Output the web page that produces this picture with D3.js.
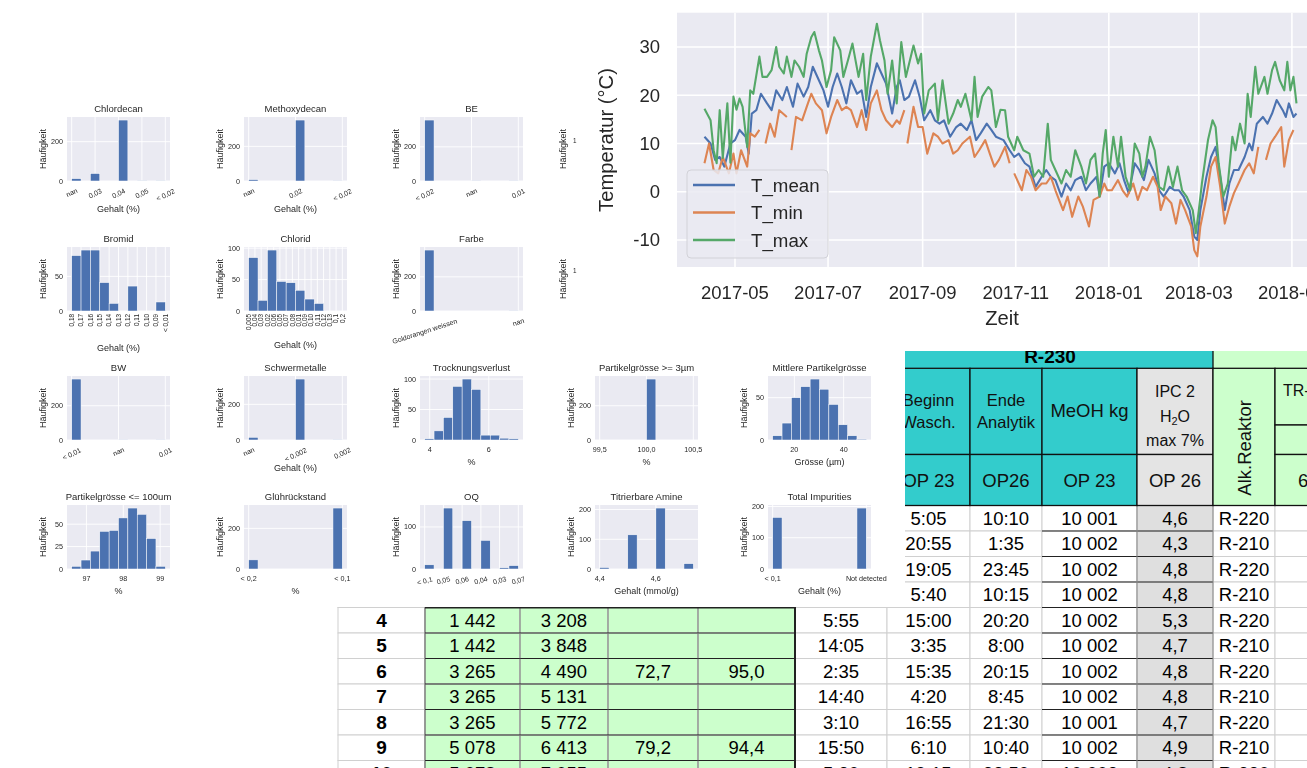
<!DOCTYPE html>
<html><head><meta charset="utf-8">
<script src="https://cdn.jsdelivr.net/npm/d3@7/dist/d3.min.js"></script>
<style>
html,body{margin:0;padding:0;background:#fff;overflow:hidden}
svg{display:block;font-family:"Liberation Sans",Arial,sans-serif}
</style></head><body>
<svg id="chart" width="1307" height="768"></svg>
<script>
// ---------------- Daily temperatures: [days since 2017-05-01, °C] ----------------
const tMean = [[-20,11.4],[-16,10],[-13,6.6],[-10,7.2],[-7,5.2],[-3,10],[0,10.7],[3,12.8],[7,11.4],[9,7.9],[11,16.2],[14,16.9],[17,20.3],[21,18.3],[24,16.9],[27,21],[31,19],[34,21.7],[38,17.6],[41,22.4],[45,19.7],[48,21.7],[51,25.9],[55,23.1],[58,21],[61,17.6],[64,21.7],[67,24.5],[70,21.7],[73,18.3],[76,23.1],[80,20.3],[83,21],[86,15.5],[89,21.7],[93,26.6],[96,24.5],[99,22.4],[103,16.2],[106,21.7],[108,23.1],[111,19],[114,19.7],[118,23.1],[121,19.7],[124,14.8],[128,16.9],[131,14.8],[134,14.1],[137,14.8],[141,11.4],[145,13.4],[148,14.1],[152,12.8],[155,14.8],[158,10.7],[161,12.1],[165,14.1],[168,12.8],[171,11.4],[176,10.7],[180,8.6],[183,7.2],[186,7.9],[190,5.9],[193,5.2],[197,1],[201,3.1],[204,4.5],[207,3.1],[210,2.4],[214,-1],[217,1.7],[220,0.3],[223,2.4],[227,3.1],[230,0.3],[233,1.7],[237,3.1],[239,-1],[242,5.2],[245,5.9],[249,3.8],[252,5.9],[255,2.4],[258,-0.3],[262,5.9],[265,4.5],[268,2.4],[271,6.6],[275,3.8],[278,0.3],[281,-1],[285,1],[288,0.3],[291,0.3],[294,-1],[298,-3.8],[301,-9.3],[303,-10],[305,-3.8],[309,3.1],[312,7.2],[315,9.3],[318,3.1],[321,-3.8],[324,1.7],[327,4.5],[330,4.5],[334,7.2],[337,10],[339,8.6],[342,14.1],[346,15.5],[349,14.1],[352,16.2],[355,19],[359,16.9],[361,15.5],[363,18.3],[366,15.5],[368,16.2]];
const tMin = [[-20,5.9],[-17,10],[-14,4.5],[-11,3.8],[-8,7.2],[-4,3.8],[-1,7.9],[1,3.8],[4,8.6],[8,5.2],[10,12.1],[13,11.4],[16,12.8],[18,null],[20,10],[23,14.1],[26,11.4],[29,16.9],[34,15.5],[35,null],[37,8.6],[40,15.5],[44,14.8],[47,17.6],[50,20.3],[53,18.3],[57,16.9],[60,12.1],[63,15.5],[67,19],[70,16.9],[73,17.6],[76,16.9],[80,13.4],[83,16.9],[86,12.8],[89,18.3],[93,21],[96,16.9],[99,14.8],[103,13.4],[106,14.8],[108,14.1],[111,16.9],[112,null],[113,10],[117,17.6],[120,13.4],[123,13.4],[126,7.9],[130,12.1],[133,11.4],[136,10],[140,10.7],[143,7.9],[146,8.6],[149,10],[154,11.4],[157,7.2],[160,8.6],[164,10.7],[167,7.9],[170,5.2],[173,6.6],[177,9.3],[180,5.9],[181,null],[183,3.8],[188,0.3],[191,4.5],[194,3.1],[197,0.3],[201,1.7],[204,1.7],[207,3.1],[210,0.3],[215,-3.8],[218,-1],[221,-5.2],[225,-1],[228,-3.1],[232,-7.2],[235,-1.7],[239,-1],[242,1.7],[244,0.3],[247,0.3],[251,2.4],[254,0.3],[257,-1],[261,1.7],[264,-1.7],[267,1],[270,0.3],[274,3.1],[277,1],[279,-3.8],[282,-1],[286,-2.4],[289,-6.6],[292,-1.7],[295,-3.8],[299,-7.2],[301,-12.1],[303,-13.4],[305,-7.2],[309,-1],[312,5.2],[315,7.2],[318,1],[321,-6.6],[324,-3.1],[327,-0.3],[330,1.7],[334,4.5],[337,5.9],[340,3.8],[343,9.3],[345,null],[348,6.6],[351,10],[354,11.4],[358,13.4],[360,5.2],[363,10.7],[366,12.8]];
const tMax = [[-20,17.2],[-16,14.8],[-14,8.6],[-12,5.9],[-10,16.9],[-8,7],[-5,18.3],[-3,6],[-1,19.7],[1,17],[3,19.3],[5,17.6],[8,9.3],[10,21],[12,20.3],[16,28],[18,23.8],[21,23.8],[24,25.2],[27,30],[29,25.9],[32,24.5],[34,28],[37,23.8],[39,27.2],[42,25.9],[45,23.8],[47,28.6],[50,32],[52,33.1],[55,29.3],[57,27.2],[60,21.7],[63,25.2],[65,32],[69,29.3],[71,23.8],[74,27.2],[77,30.7],[81,23.8],[84,28.6],[86,19],[89,28],[93,34.8],[95,31.4],[98,27.2],[100,20.3],[103,27.2],[106,18.3],[109,31],[112,23.8],[117,30.3],[120,26.6],[122,28.6],[124,16.2],[127,21],[131,22.4],[133,14.8],[136,23.1],[140,14.1],[143,16.2],[146,19],[148,17.6],[151,20.3],[155,14.8],[157,23.8],[159,15.5],[162,19.7],[166,21.7],[168,21],[171,13.4],[174,17],[177,16.9],[179,11.4],[183,8.6],[185,11.4],[189,8.6],[193,7.9],[196,3.1],[199,4.5],[202,3.1],[205,14.1],[207,6.6],[210,4.5],[214,1.7],[217,4.5],[220,3.1],[223,8.6],[227,5.2],[230,1.7],[233,6.6],[236,7.9],[239,-1],[241,7.9],[243,12.8],[245,3.1],[248,11.4],[251,5.2],[253,11.4],[256,3.1],[259,0.3],[262,10],[265,7.9],[267,3.1],[269,5.2],[272,11.4],[275,8.6],[278,1],[281,0.3],[284,5.2],[287,1],[290,5.2],[293,0.3],[296,-1],[300,-3.8],[302,-8.6],[304,-3.8],[306,1.7],[310,10.7],[313,14.8],[315,13.4],[317,5.9],[320,-1],[323,1.7],[326,11.4],[328,8.6],[331,14.1],[334,10],[336,20.3],[338,15.5],[341,25.9],[343,20.3],[347,23.8],[349,20.3],[352,25.2],[354,26.9],[357,23.1],[360,21],[362,26.9],[364,21],[366,23.8],[368,18.3]];
const seriesNames = ["T_mean", "T_min", "T_max"];
const seriesColors = ["#4C72B0", "#DD8452", "#55A868"];
const tempTicks = [-10, 0, 10, 20, 30];

// ---------------- Quality-parameter histograms (10 bins each) ----------------
const histTitles = ["Chlordecan", "Methoxydecan", "BE", "Bromid", "Chlorid", "Farbe",
  "BW", "Schwermetalle", "Trocknungsverlust", "Partikelgrösse >= 3µm", "Mittlere Partikelgrösse",
  "Partikelgrösse <= 100um", "Glührückstand", "OQ", "Titrierbare Amine", "Total Impurities"];
const histXLabels = ["Gehalt (%)", "Gehalt (%)", "", "Gehalt (%)", "Gehalt (%)", "",
  "", "Gehalt (%)", "%", "%", "Grösse (µm)", "%", "%", "", "Gehalt (mmol/g)", "Gehalt (%)"];
const histRanges = [[0, 4], [0, 2], [0, 2], [0, 10], [0, 15], [0, 1],
  [0, 2], [0, 2], [3.83, 7.0], [99.5, 100.5], [11.2, 49.2], [96.6, 99.14], [0, 1], [0, 5], [4.4, 4.7333], [0, 1]];
const histCounts = [
  [12, 0, 38, 0, 0, 310, 0, 1, 0, 1],
  [8, 0, 0, 0, 0, 352, 0, 0, 0, 1],
  [357, 0, 0, 0, 0, 1, 0, 0, 0, 1],
  [80, 88, 88, 41, 11, 0, 36, 0, 0, 13],
  [85, 17, 97, 47, 45, 33, 19, 12, 0, 0],
  [357, 0, 0, 0, 0, 0, 0, 0, 0, 1],
  [356, 0, 0, 0, 0, 1, 0, 0, 0, 1],
  [15, 0, 0, 0, 0, 342, 0, 0, 0, 1],
  [2, 15, 37, 88, 100, 83, 8, 8, 3, 2],
  [0, 0, 0, 0, 0, 356, 0, 0, 0, 0],
  [5, 20, 50, 63, 72, 60, 42, 18, 5, 1],
  [3, 10, 20, 42, 43, 57, 68, 61, 34, 3],
  [45, 0, 0, 0, 0, 0, 0, 0, 0, 300],
  [10, 0, 145, 0, 115, 0, 68, 0, 3, 8],
  [5, 0, 0, 115, 0, 0, 205, 0, 0, 18],
  [165, 0, 0, 0, 0, 0, 0, 0, 0, 195]];
const histTickValues = [
  [0, 1, 2, 3, 4], [0, 1, 2], [0, 1, 2], d3.range(11), d3.range(16), [0, 1],
  [0, 1, 2], [0, 1, 2], [4, 6], [99.5, 100, 100.5], [20, 40], [97, 98, 99],
  [0, 1], [0, 1, 2, 3, 4, 5], [4.4, 4.6], [0, 1]];
const histTickLabels = [
  ["nan", "0,03", "0,04", "0,05", "< 0,02"],
  ["nan", "0,02", "< 0,02"],
  ["< 0,02", "nan", "0,01"],
  ["0,18", "0,17", "0,16", "0,15", "0,14", "0,13", "0,12", "0,11", "0,10", "0,09", "< 0,01"],
  ["0,005", "0,04", "0,03", "0,02", "0,06", "0,05", "0,07", "0,08", "0,01", "0,09", "0,10", "0,11", "0,12", "0,13", "0,1", "0,2"],
  ["Goldorangen weissen", "nan"],
  ["< 0,01", "nan", "0,01"],
  ["nan", "< 0,002", "0,002"],
  ["4", "6"], ["99,5", "100,0", "100,5"], ["20", "40"], ["97", "98", "99"],
  ["< 0,2", "< 0,1"],
  ["< 0,1", "0,05", "0,06", "0,04", "0,03", "0,07"],
  ["4,4", "4,6"], ["< 0,1", "Not detected"]];
const histYTicks = [[0, 200], [0, 200], [0, 200], [0, 50], [0, 50, 100], [0, 200],
  [0, 200], [0, 200], [0, 50, 100], [0, 200], [0, 50], [0, 25, 50], [0, 200], [0, 100], [0, 100, 200], [0, 100, 200]];
const histTickRotation = [25, 25, 25, 90, 90, 18, 25, 25, 0, 0, 0, 0, 0, 15, 0, 0];
// grid slot of each histogram (row, column)
const histSlots = [[0, 0], [0, 1], [0, 2], [1, 0], [1, 1], [1, 2],
  [2, 0], [2, 1], [2, 2], [2, 3], [2, 4], [3, 0], [3, 1], [3, 2], [3, 3], [3, 4]];

// ---------------- Batch protocol table ----------------
const batchNo     = ["", "", "", "", "4", "5", "6", "7", "8", "9", "10"];
const amountA     = ["", "", "", "", "1 442", "1 442", "3 265", "3 265", "3 265", "5 078", "5 078"];
const amountB     = ["", "", "", "", "3 208", "3 848", "4 490", "5 131", "5 772", "6 413", "7 055"];
const yieldA      = ["", "", "", "", "", "", "72,7", "", "", "79,2", ""];
const yieldB      = ["", "", "", "", "", "", "95,0", "", "", "94,4", ""];
const startTime   = ["", "", "", "", "5:55", "14:05", "2:35", "14:40", "3:10", "15:50", "5:30"];
const washStart   = ["5:05", "20:55", "19:05", "5:40", "15:00", "3:35", "15:35", "4:20", "16:55", "6:10", "19:15"];
const analysisEnd = ["10:10", "1:35", "23:45", "10:15", "20:20", "8:00", "20:15", "8:45", "21:30", "10:40", "23:50"];
const meohKg      = ["10 001", "10 002", "10 002", "10 002", "10 002", "10 002", "10 002", "10 002", "10 001", "10 002", "10 002"];
const ipcWater    = ["4,6", "4,3", "4,8", "4,8", "5,3", "4,7", "4,8", "4,8", "4,7", "4,9", "4,8"];
const alkReactor  = ["R-220", "R-210", "R-220", "R-210", "R-220", "R-210", "R-220", "R-210", "R-220", "R-210", "R-220"];
const trColumn    = ["", "", "", "", "", "", "", "", "", "", ""];
const headGroup = "R-230";
const headNames = [["Beginn", "Wasch."], ["Ende", "Analytik"], ["MeOH kg"], ["IPC 2", "H2O", "max 7%"]];
const headOps = ["OP 23", "OP26", "OP 23", "OP 26"];

// ================================================================
const svg = d3.select("#chart");
const defs = svg.append("defs");
defs.append("clipPath").attr("id", "tableClip").append("rect")
  .attr("x", 330).attr("y", 351).attr("width", 1000).attr("height", 430);
defs.append("filter").attr("id", "softHist").attr("filterUnits", "userSpaceOnUse")
  .attr("x", 0).attr("y", 0).attr("width", 1307).attr("height", 768)
  .append("feGaussianBlur").attr("stdDeviation", 0.55);
defs.append("filter").attr("id", "softTs").attr("filterUnits", "userSpaceOnUse")
  .attr("x", 0).attr("y", 0).attr("width", 1307).attr("height", 768)
  .append("feGaussianBlur").attr("stdDeviation", 0.35);

// ---------------- table ----------------
const tableG = svg.append("g").attr("clip-path", "url(#tableClip)");
const colW = [87, 95, 88, 90, 97, 92, 83, 72, 95, 76, 62, 70];
const colX = [338, ...Array.from(d3.cumsum(colW), v => 338 + v)];
const tableCols = [batchNo, amountA, amountB, yieldA, yieldB, startTime, washStart, analysisEnd, meohKg, ipcWater, alkReactor, trColumn];
const colFill = ["#FFFFFF", "#CCFFCC", "#CCFFCC", "#CCFFCC", "#CCFFCC", "#FFFFFF", "#FFFFFF", "#FFFFFF", "#FFFFFF", "#DFDFDF", "#FFFFFF", "#FFFFFF"];
const rowY = d3.scaleBand().domain(d3.range(washStart.length)).range([505.5, 505.5 + 25.5 * washStart.length]);
const cx = c => (colX[c] + colX[c + 1]) / 2;

tableCols.forEach((col, c) => {
  col.forEach((v, r) => {
    tableG.append("rect").attr("x", colX[c]).attr("y", rowY(r))
      .attr("width", colW[c]).attr("height", rowY.bandwidth())
      .attr("fill", colFill[c]).attr("stroke", "#D0D0D0").attr("stroke-width", 1);
  });
});
// darker rules: green block and the MeOH / IPC columns
const dark = tableG.append("g").attr("stroke", "#222").attr("fill", "none");
washStart.forEach((v, r) => {
  const y = rowY(r);
  dark.append("line").attr("x1", colX[1]).attr("x2", colX[5]).attr("y1", y).attr("y2", y).attr("stroke-width", 1.1);
  dark.append("line").attr("x1", colX[8]).attr("x2", colX[10]).attr("y1", y).attr("y2", y).attr("stroke-width", 1.1);
  for (let c = 1; c <= 4; c++) {
    dark.append("line").attr("x1", colX[c]).attr("x2", colX[c]).attr("y1", y).attr("y2", y + rowY.bandwidth())
      .attr("stroke", c === 1 ? "#555" : "#777").attr("stroke-width", 1);
  }
});
dark.append("line").attr("x1", colX[1]).attr("x2", colX[5]).attr("y1", rowY(4)).attr("y2", rowY(4)).attr("stroke-width", 2);
dark.append("line").attr("x1", colX[5]).attr("x2", colX[5]).attr("y1", rowY(0)).attr("y2", 790).attr("stroke-width", 2);
dark.append("line").attr("x1", colX[9]).attr("x2", colX[9]).attr("y1", rowY(0)).attr("y2", 790).attr("stroke", "#888").attr("stroke-width", 1);
dark.append("line").attr("x1", colX[10]).attr("x2", colX[10]).attr("y1", rowY(0)).attr("y2", 790).attr("stroke", "#888").attr("stroke-width", 1);

tableCols.forEach((col, c) => {
  col.forEach((v, r) => {
    if (!v) return;
    tableG.append("text").attr("x", cx(c)).attr("y", rowY(r) + rowY.bandwidth() / 2 + 6.6)
      .attr("text-anchor", "middle").attr("font-size", c === 0 ? 19 : 18.5)
      .attr("font-weight", c === 0 ? "bold" : "normal").attr("fill", "#000").text(v);
  });
});

// header block
const hTop = 336, h1 = 368.3, h2 = 454.5, h3 = 505.5;
const hdr = tableG.append("g");
hdr.append("rect").attr("x", colX[5]).attr("y", hTop).attr("width", colX[9] + colW[9] - colX[5]).attr("height", h1 - hTop).attr("fill", "#33CCCC");
hdr.append("rect").attr("x", colX[10]).attr("y", hTop).attr("width", colW[10] + colW[11]).attr("height", h1 - hTop).attr("fill", "#CCFFCC");
hdr.append("text").attr("x", 1050).attr("y", 362.5).attr("text-anchor", "middle").attr("font-size", 19).attr("font-weight", "bold").text(headGroup);
[5, 6, 7, 8, 9].forEach(c => {
  const fill = c === 9 ? "#E4E4E4" : "#33CCCC";
  hdr.append("rect").attr("x", colX[c]).attr("y", h1).attr("width", colW[c]).attr("height", h2 - h1).attr("fill", fill).attr("stroke", "#111").attr("stroke-width", 1.3);
  hdr.append("rect").attr("x", colX[c]).attr("y", h2).attr("width", colW[c]).attr("height", h3 - h2).attr("fill", fill).attr("stroke", "#111").attr("stroke-width", 1.3);
});
hdr.append("rect").attr("x", colX[10]).attr("y", h1).attr("width", colW[10]).attr("height", h3 - h1).attr("fill", "#CCFFCC").attr("stroke", "#111").attr("stroke-width", 1.3);
hdr.append("rect").attr("x", colX[11]).attr("y", h1).attr("width", colW[11]).attr("height", 425 - h1).attr("fill", "#CCFFCC").attr("stroke", "#111").attr("stroke-width", 1.3);
hdr.append("rect").attr("x", colX[11]).attr("y", 425).attr("width", colW[11]).attr("height", h2 - 425).attr("fill", "#CCFFCC").attr("stroke", "#111").attr("stroke-width", 1.3);
hdr.append("rect").attr("x", colX[11]).attr("y", h2).attr("width", colW[11]).attr("height", h3 - h2).attr("fill", "#CCFFCC").attr("stroke", "#111").attr("stroke-width", 1.3);
hdr.append("line").attr("x1", colX[10]).attr("x2", colX[10]).attr("y1", hTop).attr("y2", h1).attr("stroke", "#111").attr("stroke-width", 1.3);
const headSizes = [16.5, 16.5, 18.5, 16];
headNames.forEach((lines, i) => {
  const c = i + 6, n = lines.length, lh = i === 3 ? 24.5 : 22;
  const shift = i === 3 ? 10.5 : 6;
  const t = hdr.append("text").attr("text-anchor", "middle").attr("font-size", headSizes[i]).attr("fill", "#111");
  lines.forEach((ln, k) => {
    const y = (h1 + h2) / 2 + (k - (n - 1) / 2) * lh + shift;
    const ts = t.append("tspan").attr("x", cx(c)).attr("y", y);
    if (ln === "H2O") {
      ts.text("H");
      ts.append("tspan").attr("font-size", 11).attr("dy", 3).text("2");
      ts.append("tspan").attr("dy", -3).text("O");
    } else ts.text(ln);
  });
});
headOps.forEach((t, i) => {
  hdr.append("text").attr("x", cx(i + 6)).attr("y", (h2 + h3) / 2 + 6.6).attr("text-anchor", "middle").attr("font-size", 18.5).attr("fill", "#111").text(t);
});
hdr.append("text").attr("transform", `translate(${cx(10) + 6.5},${(h1 + h3) / 2 + 11}) rotate(-90)`)
  .attr("text-anchor", "middle").attr("font-size", 18.5).attr("fill", "#111").text("Alk.Reaktor");
hdr.append("text").attr("x", colX[11] + 8).attr("y", 396).attr("font-size", 16).attr("fill", "#111").text("TR-");
hdr.append("text").attr("x", colX[11] + 23).attr("y", (h2 + h3) / 2 + 6.6).attr("font-size", 18.5).attr("fill", "#111").text("60");

// ---------------- histogram grid ----------------
const histG = svg.append("g").attr("filter", "url(#softHist)");
histG.append("rect").attr("x", 0).attr("y", 0).attr("width", 905).attr("height", 607).attr("fill", "#fff");
const slotX = [67, 244, 420, 595, 768], slotY = [117, 247, 376, 505];
const PW = 103, PH = 64;
const txtCol = "#262626";

histTitles.forEach((title, i) => {
  const [row, col] = histSlots[i];
  const x0 = slotX[col], y0 = slotY[row];
  const [lo, hi] = histRanges[i];
  const pad = (hi - lo) * 0.05;
  const x = d3.scaleLinear().domain([lo - pad, hi + pad]).range([x0, x0 + PW]);
  const counts = histCounts[i];
  const y = d3.scaleLinear().domain([0, d3.max(counts) * 1.05]).range([y0 + PH, y0]);
  const g = histG.append("g");
  g.append("rect").attr("x", x0).attr("y", y0).attr("width", PW).attr("height", PH).attr("fill", "#EAEAF2");
  g.selectAll(".vg").data(histTickValues[i]).join("line")
    .attr("x1", d => x(d)).attr("x2", d => x(d)).attr("y1", y0).attr("y2", y0 + PH)
    .attr("stroke", "#fff").attr("stroke-width", 0.9);
  g.selectAll(".hg").data(histYTicks[i]).join("line")
    .attr("x1", x0).attr("x2", x0 + PW).attr("y1", d => y(d)).attr("y2", d => y(d))
    .attr("stroke", "#fff").attr("stroke-width", 0.9);
  const bw = (hi - lo) / counts.length;
  g.selectAll(".bar").data(counts).join("rect")
    .attr("x", (d, k) => x(lo + k * bw)).attr("width", x(lo + bw) - x(lo))
    .attr("y", d => y(d)).attr("height", d => y(0) - y(d))
    .attr("fill", "#4C72B0").attr("stroke", "#fff").attr("stroke-width", 0.5);
  g.append("text").attr("x", x0 + PW / 2).attr("y", y0 - 5).attr("text-anchor", "middle")
    .attr("font-size", 9.5).attr("fill", txtCol).text(title);
  const yLabs = histYTicks[i];
  g.selectAll(".yt").data(yLabs).join("text")
    .attr("x", x0 - 4).attr("y", d => y(d) + 2.5).attr("text-anchor", "end")
    .attr("font-size", 7.2).attr("fill", txtCol).text(d => d);
  g.append("text").attr("transform", `translate(${x0 - 21.5},${y0 + PH / 2}) rotate(-90)`)
    .attr("text-anchor", "middle").attr("font-size", 9).attr("fill", txtCol).text("Häufigkeit");
  const rot = histTickRotation[i];
  const labels = histTickLabels[i];
  histTickValues[i].forEach((v, k) => {
    const tx = x(v), lab = labels[k];
    if (rot === 0) {
      g.append("text").attr("x", tx).attr("y", y0 + PH + 11.5).attr("text-anchor", "middle")
        .attr("font-size", 7.2).attr("fill", txtCol).text(lab);
    } else if (rot === 90) {
      g.append("text").attr("transform", `translate(${tx + 2.2},${y0 + PH + 3}) rotate(-90)`)
        .attr("text-anchor", "end").attr("font-size", 6.4).attr("fill", txtCol).text(lab);
    } else {
      const a = rot * Math.PI / 180, w = lab.length * 3.7;
      const hb = w * Math.sin(a) + 7 * Math.cos(a);
      g.append("text").attr("transform", `translate(${tx},${y0 + PH + 6 + hb / 2}) rotate(${-rot})`)
        .attr("text-anchor", "middle").attr("dominant-baseline", "central")
        .attr("font-size", 7).attr("fill", txtCol).text(lab);
    }
  });
  if (histXLabels[i]) {
    let off = rot === 0 ? 25 : 31;
    if (rot === 90) off = 3 + d3.max(labels, l => l.length) * 3.3 + 17;
    g.append("text").attr("x", x0 + PW / 2).attr("y", y0 + PH + off).attr("text-anchor", "middle")
      .attr("font-size", 9).attr("fill", txtCol).text(histXLabels[i]);
  }
});
// column 4 of the first two rows only shows its axis label before the next figure
[0, 1].forEach(row => {
  histG.append("text").attr("transform", `translate(566,${slotY[row] + PH / 2}) rotate(-90)`)
    .attr("text-anchor", "middle").attr("font-size", 9).attr("fill", txtCol).text("Häufigkeit");
  histG.append("text").attr("x", 573).attr("y", slotY[row] + 26).attr("font-size", 6.3).attr("fill", txtCol).text("1");
});

// ---------------- temperature time series ----------------
const tsG = svg.append("g").attr("filter", "url(#softTs)");
tsG.append("rect").attr("x", 596).attr("y", 0).attr("width", 711).attr("height", 340).attr("fill", "#fff");
const base = Date.UTC(2017, 4, 1);
const toDate = d => new Date(base + d * 864e5);
const xT = d3.scaleUtc().domain([new Date(Date.UTC(2017, 2, 24)), new Date(Date.UTC(2018, 4, 24))]).range([677, 1327]);
const yT = d3.scaleLinear().domain([-15.6, 37.1]).range([267, 12.7]);
tsG.append("rect").attr("x", 677).attr("y", 12.7).attr("width", 650).attr("height", 254.3).attr("fill", "#EAEAF2");
const monthTicks = xT.ticks(d3.utcMonth.every(2));
tsG.selectAll(".mg").data(monthTicks).join("line")
  .attr("x1", d => xT(d)).attr("x2", d => xT(d)).attr("y1", 12.7).attr("y2", 267)
  .attr("stroke", "#fff").attr("stroke-width", 1.6);
tsG.selectAll(".tg").data(tempTicks).join("line")
  .attr("x1", 677).attr("x2", 1307).attr("y1", d => yT(d)).attr("y2", d => yT(d))
  .attr("stroke", "#fff").attr("stroke-width", 1.6);
const line = d3.line().defined(d => d[1] !== null).x(d => xT(toDate(d[0]))).y(d => yT(d[1]));
[tMean, tMin, tMax].forEach((s, i) => {
  tsG.append("path").datum(s).attr("d", line).attr("fill", "none")
    .attr("stroke", seriesColors[i]).attr("stroke-width", 2.1).attr("stroke-linejoin", "round");
});
tsG.selectAll(".xl").data(monthTicks).join("text")
  .attr("x", d => xT(d)).attr("y", 299).attr("text-anchor", "middle")
  .attr("font-size", 18.5).attr("fill", txtCol).text(d3.utcFormat("%Y-%m"));
tsG.selectAll(".yl").data(tempTicks).join("text")
  .attr("x", 660).attr("y", d => yT(d) + 6.5).attr("text-anchor", "end")
  .attr("font-size", 18.5).attr("fill", txtCol).text(d => d);
tsG.append("text").attr("x", 1002).attr("y", 325).attr("text-anchor", "middle")
  .attr("font-size", 20.2).attr("fill", txtCol).text("Zeit");
tsG.append("text").attr("transform", "translate(613,140) rotate(-90)").attr("text-anchor", "middle")
  .attr("font-size", 20.2).attr("fill", txtCol).text("Temperatur (°C)");
const leg = tsG.append("g");
leg.append("rect").attr("x", 687).attr("y", 170).attr("width", 141).attr("height", 88).attr("rx", 4)
  .attr("fill", "#EAEAF2").attr("fill-opacity", 0.85).attr("stroke", "#D2D2D8").attr("stroke-width", 1);
seriesNames.forEach((n, i) => {
  const yy = 185 + i * 27.5;
  leg.append("line").attr("x1", 693).attr("x2", 735).attr("y1", yy).attr("y2", yy)
    .attr("stroke", seriesColors[i]).attr("stroke-width", 2.3);
  leg.append("text").attr("x", 751).attr("y", yy + 6.5).attr("font-size", 18.7).attr("fill", txtCol).text(n);
});
</script></body></html>
